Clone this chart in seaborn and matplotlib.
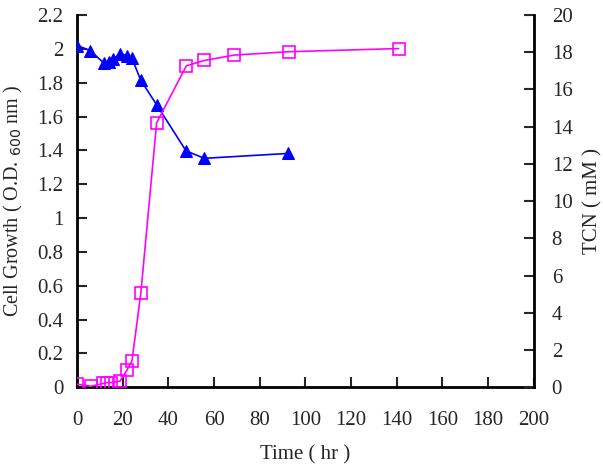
import numpy as np
import pandas as pd
import matplotlib
matplotlib.use('Agg')
import matplotlib.pyplot as plt
import seaborn as sns

# cell growth (O.D. 600 nm), left axis
time_od = [0, 5.7, 11.8, 13.8, 15.5, 18.9, 21.8, 24.0, 27.8, 34.8, 47.7, 55.7, 92.5]
od600 = [2.02, 1.99, 1.915, 1.925, 1.94, 1.97, 1.96, 1.945, 1.816, 1.67, 1.397, 1.353, 1.382]

# TCN (mM), right axis
time_tcn = [0, 6.0, 11.5, 13.2, 15.0, 18.7, 21.8, 24.0, 27.9, 34.8, 47.8, 55.7, 68.9, 92.7, 140.8]
tcn = [0.16, 0.05, 0.2, 0.25, 0.25, 0.32, 0.91, 1.41, 5.07, 14.2, 17.27, 17.56, 17.85, 18.03, 18.2]

sns.set_style('ticks')
plt.rcParams['font.family'] = ['Liberation Serif', 'DejaVu Serif']
plt.rcParams['font.size'] = 15

df_od = pd.DataFrame({'t': time_od, 'v': od600})
df_tcn = pd.DataFrame({'t': time_tcn, 'v': tcn})

fig = plt.figure(figsize=(6.03, 4.71), dpi=100)
ax = fig.add_axes([0.128, 0.178, 0.757, 0.79])
ax2 = ax.twinx()

sns.lineplot(data=df_od, x='t', y='v', ax=ax, color='#0000ff', marker='^',
             markersize=9, markeredgecolor='#0000ff', linewidth=1.2, zorder=3)
sns.lineplot(data=df_tcn, x='t', y='v', ax=ax2, color='#ff00ff', marker='s',
             markersize=8, markerfacecolor='none', markeredgecolor='#ff00ff',
             markeredgewidth=1.2, linewidth=1.2)

ax.set_xlim(0, 200)
ax.set_ylim(0, 2.2)
ax2.set_ylim(0, 20)
ax.set_xticks(np.arange(0, 201, 20))
ax.set_yticks(np.arange(0, 2.21, 0.2))
ax.set_yticklabels(['0', '0.2', '0.4', '0.6', '0.8', '1', '1.2', '1.4', '1.6', '1.8', '2', '2.2'])
ax2.set_yticks(np.arange(0, 21, 2))

ax.set_xlabel('Time ( hr )')
ax.set_ylabel('Cell Growth ( O.D. $_{600}$ nm )', fontsize=14.5)
ax2.set_ylabel('TCN ( mM )')
ax.xaxis.set_label_coords(0.5, -0.155)
ax.yaxis.set_label_coords(-0.115, 0.5)
ax2.yaxis.set_label_coords(1.108, 0.5)

for a in (ax, ax2):
    a.spines['top'].set_visible(False)
    for s in a.spines.values():
        s.set_linewidth(2)
        s.set_color('black')
    a.tick_params(direction='in', length=7, width=1.5, labelsize=15)
ax.tick_params(axis='y', pad=10)
ax.tick_params(axis='x', pad=17)
ax2.tick_params(axis='y', pad=13)
ax.spines['right'].set_visible(False)
ax2.spines['left'].set_visible(False)
ax2.spines['bottom'].set_visible(False)

fig.savefig('out.png', dpi=100)
